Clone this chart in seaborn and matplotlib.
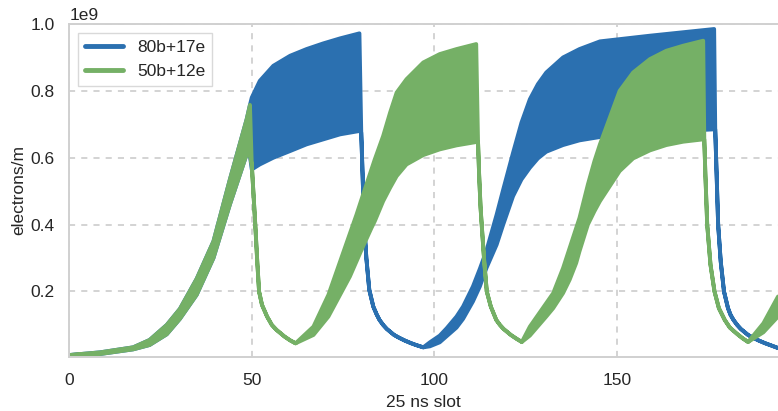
# Electron cloud build-up for two filling schemes (80b+17e, 50b+12e)

import pandas as pd
import seaborn as sns
import matplotlib.pyplot as plt

# values in units of 1e9 electrons/m
# first bunch train is identical for both filling schemes
first_slot = [0, 8.4, 17.5, 22, 26.7, 30.3, 34.9, 39.5, 44.0, 48.6, 49.5]
first_upper = [0.010, 0.018, 0.033, 0.055, 0.100, 0.148, 0.238, 0.350, 0.535, 0.715, 0.758]
first_lower = [0.010, 0.013, 0.027, 0.040, 0.072, 0.118, 0.190, 0.300, 0.460, 0.610, 0.605]

# 80b+17e
blue_slot = [50, 52.2, 55.9, 60.5, 65, 69.6, 74.2, 79.5,
             80, 80.3, 80.8, 81.4, 82.2, 83.3, 84.2, 85, 86, 87, 89, 90.5, 92, 93.5, 95, 97,
             98.8, 101.5, 103.4, 106.1, 107.9, 110.6, 112.5, 114.3, 117.1, 118.9,
             121.6, 123.9, 126.2, 128.4, 130.7, 135.3, 139.8, 145.4, 159.1, 168, 176.7,
             177, 177.3, 177.8, 178.5, 179.4, 180.5, 181.2, 182, 183, 184, 186, 187.5, 189, 190.5,
             192, 194.2]
blue_upper = [0.780, 0.830, 0.875, 0.905, 0.925, 0.942, 0.957, 0.972,
              0.675, 0.570, 0.400, 0.300, 0.205, 0.155, 0.132, 0.115, 0.100, 0.088, 0.070, 0.061,
              0.053, 0.046, 0.040, 0.033,
              0.048, 0.068, 0.090, 0.125, 0.155, 0.215, 0.268, 0.322, 0.430, 0.505,
              0.615, 0.705, 0.775, 0.820, 0.855, 0.900, 0.925, 0.948, 0.965, 0.975, 0.985,
              0.685, 0.580, 0.400, 0.290, 0.200, 0.150, 0.130, 0.115, 0.100, 0.088, 0.070, 0.061,
              0.053, 0.046, 0.040, 0.031]
blue_lower = [0.565, 0.580, 0.600, 0.620, 0.640, 0.655, 0.670, 0.680,
              0.675, 0.570, 0.400, 0.300, 0.205, 0.155, 0.132, 0.115, 0.100, 0.088, 0.070, 0.061,
              0.053, 0.046, 0.040, 0.033,
              0.036, 0.048, 0.066, 0.092, 0.118, 0.170, 0.215, 0.270, 0.340, 0.400,
              0.485, 0.535, 0.570, 0.598, 0.618, 0.638, 0.652, 0.662, 0.672, 0.680, 0.685,
              0.685, 0.580, 0.400, 0.290, 0.200, 0.150, 0.130, 0.115, 0.100, 0.088, 0.070, 0.061,
              0.053, 0.046, 0.040, 0.031]

# 50b+12e
green_slot = [50, 50.96, 51.5, 52.0, 52.8, 54.2, 55.5, 56.8, 58, 59, 60.5, 62,
              66.9, 71, 74.2, 76.9, 78.7, 80.5, 82.8, 83.7, 86, 87.9, 89.7, 92.4, 97, 101.5, 106.1, 111.5,
              112, 112.3, 112.7, 113, 113.7, 114.4, 115.5, 117, 118, 119, 121, 122.5, 124,
              126.2, 130.7, 132.6, 135.3, 137.1, 138.9, 139.8, 142.1, 143.9, 145.4, 148.1,
              150.8, 154.5, 159.1, 163.6, 168.2, 173.7,
              174, 174.3, 174.8, 175.7, 176.8, 178, 179.6, 181, 183, 184.5, 186,
              190.2, 194.2]
green_upper = [0.580, 0.400, 0.290, 0.200, 0.160, 0.125, 0.100, 0.085, 0.074, 0.065, 0.054, 0.045,
               0.095, 0.190, 0.290, 0.375, 0.430, 0.490, 0.565, 0.595, 0.665, 0.735, 0.795, 0.835, 0.885,
               0.910, 0.925, 0.940,
               0.647, 0.550, 0.450, 0.400, 0.290, 0.200, 0.155, 0.115, 0.100, 0.088, 0.070, 0.059, 0.049,
               0.095, 0.165, 0.195, 0.270, 0.330, 0.390, 0.420, 0.520, 0.590, 0.640, 0.720,
               0.800, 0.855, 0.895, 0.920, 0.935, 0.950,
               0.655, 0.550, 0.400, 0.280, 0.200, 0.150, 0.115, 0.092, 0.073, 0.060, 0.049,
               0.105, 0.185]
green_lower = [0.580, 0.400, 0.290, 0.200, 0.160, 0.125, 0.100, 0.085, 0.074, 0.065, 0.054, 0.045,
               0.070, 0.125, 0.190, 0.245, 0.290, 0.335, 0.390, 0.410, 0.470, 0.510, 0.545, 0.580, 0.608,
               0.625, 0.637, 0.647,
               0.647, 0.550, 0.450, 0.400, 0.290, 0.200, 0.155, 0.115, 0.100, 0.088, 0.070, 0.059, 0.049,
               0.068, 0.125, 0.150, 0.195, 0.235, 0.285, 0.320, 0.400, 0.440, 0.470, 0.515,
               0.560, 0.598, 0.622, 0.638, 0.648, 0.655,
               0.655, 0.550, 0.400, 0.280, 0.200, 0.150, 0.115, 0.092, 0.073, 0.060, 0.049,
               0.078, 0.125]

series = [
    ("80b+17e", "#2b70b0", first_slot + blue_slot, first_upper + blue_upper, first_lower + blue_lower),
    ("50b+12e", "#75b066", first_slot + green_slot, first_upper + green_upper, first_lower + green_lower),
]

sns.set_style("whitegrid", {"grid.linestyle": (0, (4, 4)), "grid.color": "#c8c8c8",
                            "axes.edgecolor": "#d0d0d0"})
plt.rcParams["font.family"] = ["Liberation Sans", "DejaVu Sans"]
plt.rcParams["text.color"] = "#262626"

fig = plt.figure(figsize=(7.78, 4.11), dpi=100)
ax = fig.add_axes([69.3 / 778, 54.3 / 411, 1 - 69.3 / 778, 332.7 / 411])

z = 1
for name, color, slot, upper, lower in series:
    # the fast per-bunch oscillation is shown as a band between its envelopes
    x = list(slot) + slot[::-1]
    y = [v * 1e9 for v in upper] + [v * 1e9 for v in lower[::-1]]
    df = pd.DataFrame({"slot": x, "value": y})
    ax.fill_between(slot, [v * 1e9 for v in lower], [v * 1e9 for v in upper],
                    color=color, lw=0, zorder=z)
    sns.lineplot(data=df, x="slot", y="value", sort=False, estimator=None,
                 color=color, lw=2.8, label=name, ax=ax, zorder=z + 0.5)
    z += 1

ax.set_xlim(0, 194.2)
ax.set_ylim(0.005e9, 1.0e9)
ax.set_xticks([0, 50, 100, 150])
ax.set_yticks([0.2e9, 0.4e9, 0.6e9, 0.8e9, 1.0e9])
ax.tick_params(axis="x", labelsize=12.5, pad=8, colors="#262626")
ax.tick_params(axis="y", labelsize=12.5, pad=7, colors="#262626")
ax.yaxis.get_offset_text().set_fontsize(12.5)
ax.set_xlabel("25 ns slot", fontsize=12.5, labelpad=5)
ax.set_ylabel("electrons/m", fontsize=12.5, labelpad=3)
ax.grid(True, lw=1.1)
ax.spines["right"].set_visible(False)
for sp in ["left", "bottom", "top"]:
    ax.spines[sp].set_linewidth(1.4)

leg = ax.legend(loc="upper left", fontsize=12.5, frameon=True, fancybox=False,
                handlelength=2.2, edgecolor="#d0d0d0")
leg.get_frame().set_linewidth(1.0)
for line in leg.get_lines():
    line.set_linewidth(3.5)

fig.savefig("out.png", dpi=100)
